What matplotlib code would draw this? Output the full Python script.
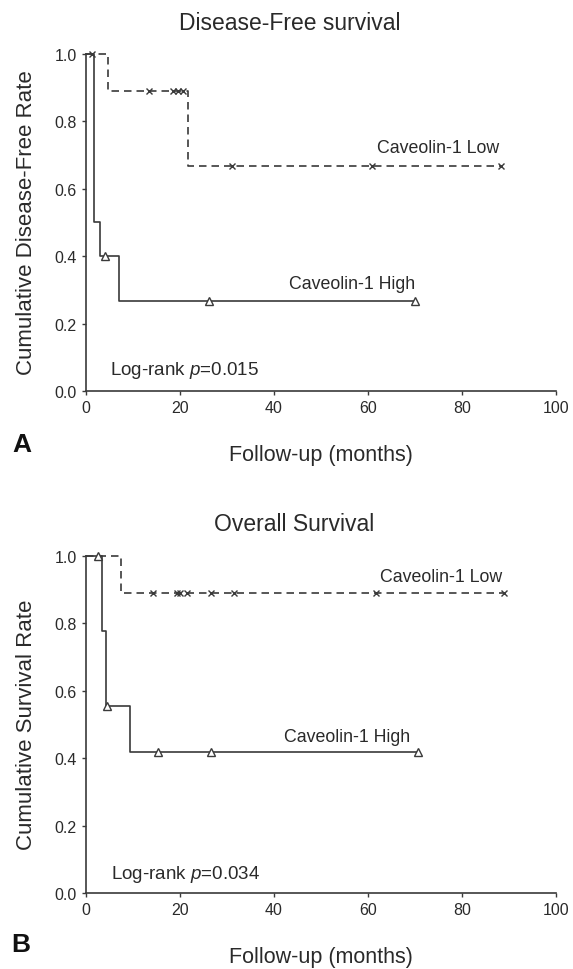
import matplotlib
matplotlib.use("Agg")
import matplotlib.pyplot as plt
import numpy as np

plt.rcParams['font.family'] = ['Liberation Sans', 'DejaVu Sans']
plt.rcParams['mathtext.fontset'] = 'custom'
plt.rcParams['mathtext.rm'] = 'Liberation Sans'
plt.rcParams['mathtext.it'] = 'Liberation Sans:italic'

# Disease-free survival (panel A)
dfs_high_times = [0, 1.8, 3.0, 7.1]
dfs_high_surv = [1.0, 0.5, 0.4, 0.267]
dfs_high_cens = [4.0, 26.2, 70.0]
dfs_low_times = [0, 4.7, 21.8]
dfs_low_surv = [1.0, 0.889, 0.667]
dfs_low_cens = [1.2, 13.5, 18.6, 19.6, 20.6, 31.0, 60.8, 88.3]

# Overall survival (panel B)
os_high_times = [0, 3.5, 4.2, 9.4]
os_high_surv = [1.0, 0.778, 0.556, 0.417]
os_high_cens = [2.5, 4.5, 15.4, 26.6, 70.7]
os_low_times = [0, 7.4]
os_low_surv = [1.0, 0.889]
os_low_cens = [14.2, 19.3, 20.0, 21.4, 26.7, 31.5, 61.7, 88.9]

xticks = [0, 20, 40, 60, 80, 100]
yticks = [0.0, 0.2, 0.4, 0.6, 0.8, 1.0]

LINE = '#3a3a3a'
TXT = '#2a2a2a'


def surv_at(times, surv, t):
    idx = np.searchsorted(times, t, side='right') - 1
    return np.array(surv)[idx]


def km(ax, times, surv, cens, dashed, marker):
    end = max(cens)
    x = list(times) + [end]
    y = list(surv) + [surv[-1]]
    ls = (0, (4.5, 3)) if dashed else '-'
    ax.step(x, y, where='post', color=LINE, lw=1.2, linestyle=ls, clip_on=False)
    cy = surv_at(times, surv, cens)
    if marker == 'x':
        ax.plot(cens, cy, 'x', color=LINE, ms=5, mew=1.0, clip_on=False)
    else:
        ax.plot(cens, cy, '^', color=LINE, mfc='white', ms=6, mew=1.0, clip_on=False)


def style(ax):
    ax.set_xlim(0, 100)
    ax.set_ylim(0, 1.0)
    ax.spines['top'].set_visible(False)
    ax.spines['right'].set_visible(False)
    for s in ['left', 'bottom']:
        ax.spines[s].set_color(LINE)
        ax.spines[s].set_linewidth(1.2)
    ax.set_xticks(xticks)
    ax.set_yticks(yticks)
    ax.set_yticklabels(['%.1f' % v for v in yticks])
    ax.tick_params(colors=LINE, labelcolor=TXT, labelsize=11.5, length=3, width=1)


fig = plt.figure(figsize=(5.73, 9.7), dpi=100)
axA = fig.add_axes([0.150, 0.5959, 0.820, 0.3474])
axB = fig.add_axes([0.150, 0.0784, 0.820, 0.3474])

km(axA, dfs_low_times, dfs_low_surv, dfs_low_cens, True, 'x')
km(axA, dfs_high_times, dfs_high_surv, dfs_high_cens, False, '^')
style(axA)
axA.text(88, 0.724, 'Caveolin-1 Low', ha='right', va='center', fontsize=12.8, color=TXT)
axA.text(70, 0.318, 'Caveolin-1 High', ha='right', va='center', fontsize=12.8, color=TXT)
axA.text(5.1, 0.065, 'Log-rank $p$=0.015', ha='left', va='center', fontsize=13.5, color=TXT)

km(axB, os_low_times, os_low_surv, os_low_cens, True, 'x')
km(axB, os_high_times, os_high_surv, os_high_cens, False, '^')
style(axB)
axB.text(88.5, 0.938, 'Caveolin-1 Low', ha='right', va='center', fontsize=12.8, color=TXT)
axB.text(69, 0.463, 'Caveolin-1 High', ha='right', va='center', fontsize=12.8, color=TXT)
axB.text(5.3, 0.059, 'Log-rank $p$=0.034', ha='left', va='center', fontsize=13.5, color=TXT)

W, H = 573.0, 970.0
fig.text(290 / W, 1 - 23 / H, 'Disease-Free survival', ha='center', va='center', fontsize=16.5, color=TXT)
fig.text(294 / W, 1 - 525 / H, 'Overall Survival', ha='center', va='center', fontsize=16.5, color=TXT)
fig.text(27 / W, 1 - 223 / H, 'Cumulative Disease-Free Rate', rotation=90, ha='center', va='center', fontsize=16, color=TXT)
fig.text(27 / W, 1 - 725 / H, 'Cumulative Survival Rate', rotation=90, ha='center', va='center', fontsize=16, color=TXT)
fig.text(321 / W, 1 - 455 / H, 'Follow-up (months)', ha='center', va='center', fontsize=15.5, color=TXT)
fig.text(321 / W, 1 - 958 / H, 'Follow-up (months)', ha='center', va='center', fontsize=15.5, color=TXT)
fig.text(22 / W, 1 - 445 / H, 'A', ha='center', va='center', fontsize=19, fontweight='bold', color='#111111')
fig.text(21 / W, 1 - 945 / H, 'B', ha='center', va='center', fontsize=19, fontweight='bold', color='#111111')

fig.savefig('out.png', dpi=100)
